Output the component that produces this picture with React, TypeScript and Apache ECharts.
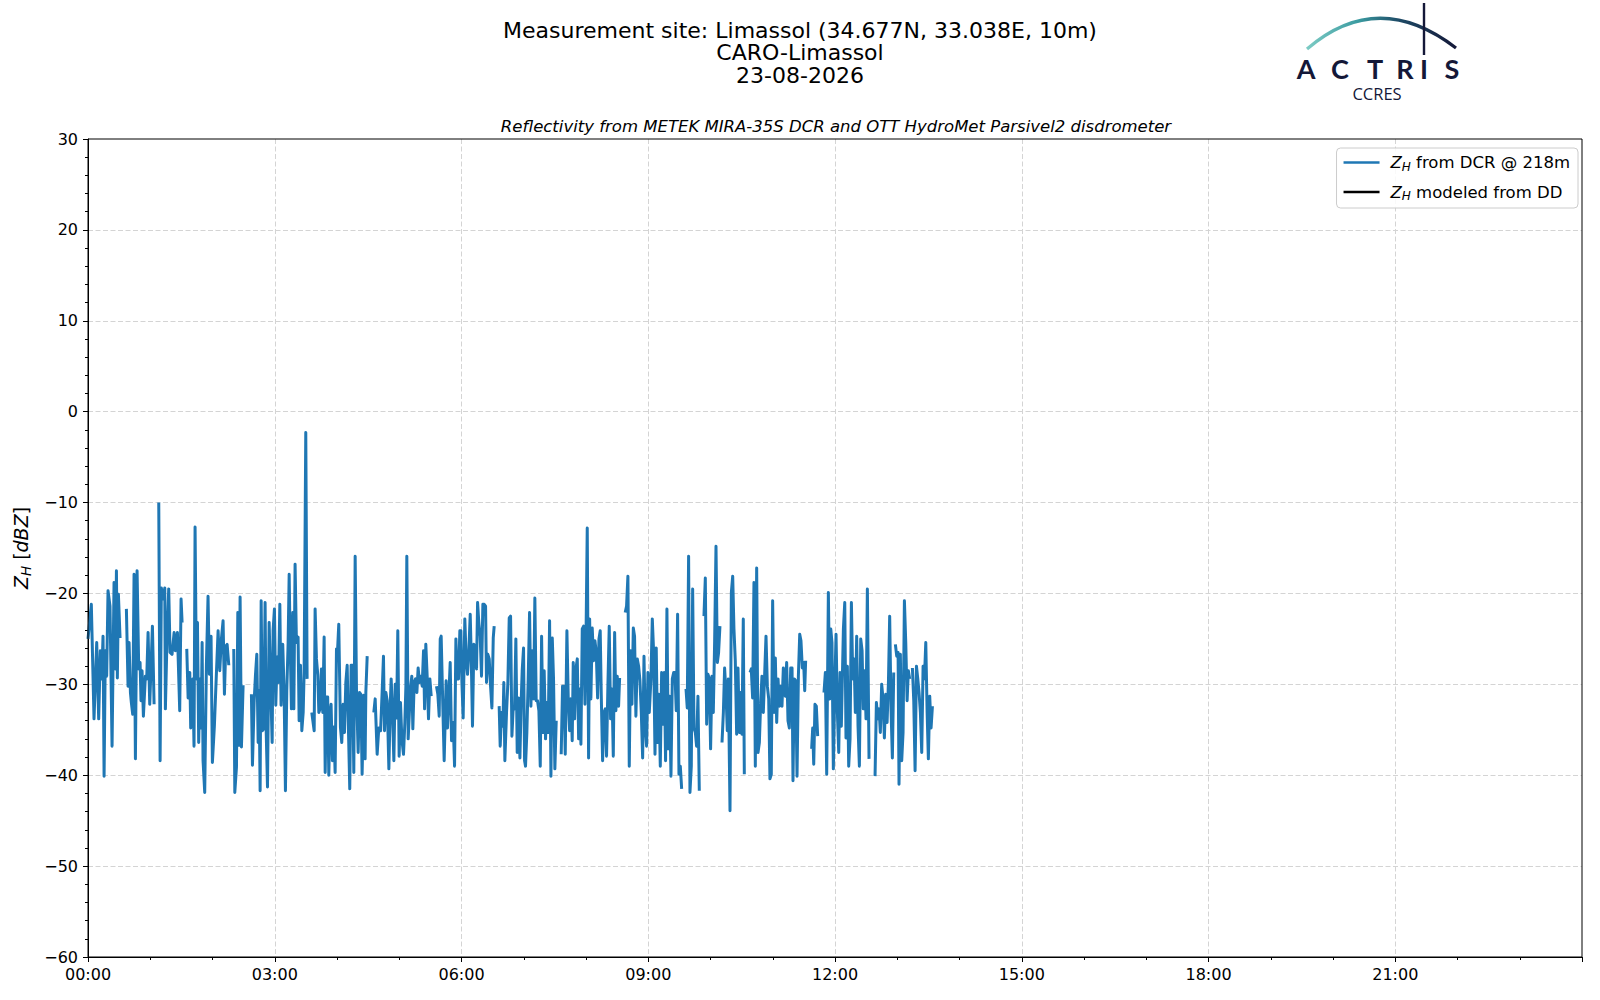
import React, { useEffect, useRef } from "react";
import * as echarts from "echarts";

// ---- Data (minutes after 00:00 UTC, dBZ); null = gap ----
const dcrMinutes: number[] = [
  0, 3.2, 5.8, 8.4, 10.3, 11.9, 13.2, 14.5, 15.5, 16.7, 18.0, 19.3, 21.2, 23.2, 25.1, 26.4, 27.4, 28.3, 29.3, 30.9,
  34, 37.0, 38.6, 39.6, 40.9, 41.8, 43.1, 44.4, 45.7, 47.3, 48.9, 50.2, 51.1, 52.1, 53.4, 55.3, 56.6, 57.9, 59.5, 62.1, 63.7,
  66, 68.2, 69.5, 70.7, 72.4, 74.0, 74.6, 76.2, 77.8, 79.1, 81.0, 83.0, 84.2, 86.2, 88.4, 89.7, 90.7,
  93, 95.2, 96.5, 98.1, 99.0, 101.0, 102.2, 103.2, 104.5, 105.5, 106.7, 108.0, 109.0, 110.0, 110.9, 112.5, 114.1, 115.7,
  117.0, 118.6, 119.9, 121.8, 123.8, 125.4, 127.0, 128.6, 130.2,
  131.5, 132.8, 134.1, 135.7, 138, 140.5, 141.5, 143.1, 144.4, 145.6, 146.6, 147.9, 149.5, 153,
  157.5, 158.5, 160.1, 161.4, 162.7, 164.0, 164.9, 165.9, 166.9, 168.1, 169.4, 170.7, 171.7, 173.0, 174.6, 175.9, 177.5,
  178.4, 179.7, 181.0, 182.3, 183.6, 184.9, 186.1, 187.7, 189.0, 190.3, 191.6, 192.9, 193.9, 194.8, 196.1, 197.4, 198.4,
  199.6, 200.9, 202.5, 203.5, 204.8, 206.1, 207.4, 208.3, 209.9, 211.2, 213.5,
  215.7, 218.0, 218.9, 220.2, 221.5, 222.5, 223.7, 225.0, 226.3, 227.6, 228.6, 229.8, 231.0, 232.1, 233.4, 234.3, 235.6,
  236.9, 238.2, 239.5, 240.6, 241.7, 243.3, 244.6, 245.9, 247.2, 248.5, 249.8, 251.1, 252.3, 253.6, 254.9, 256.2, 257.5,
  258.8, 260.4, 261.7, 263.0, 264.2, 265.8, 267.1, 267.8, 269.1, 272,
  275.5, 276.8, 278.7, 280.3, 282.0, 283.5, 284.8, 285.8, 287.1, 288.4, 290.0, 291.2, 292.2, 293.5, 294.8, 296.1, 297.4,
  298.6, 299.9, 301.2, 302.5, 304.1, 305.4, 306.4, 307.3, 308.6, 309.6, 310.9, 312.1, 313.1, 314.4, 315.7, 317.0, 318.2,
  319.5, 320.8, 322.1, 323.4, 324.4, 325.6, 326.9, 328.2, 329.5, 330.8, 333,
  335.9, 337.2, 338.5, 339.5, 340.4, 342.0, 343.3, 344.3, 345.2, 346.5, 347.8, 349.1, 350.4, 352.0, 353.3, 354.6, 355.8,
  357.1, 358.4, 359.4, 360.4, 361.6, 363.2, 364.5, 365.8, 367.1, 368.4, 369.3, 370.6, 371.9, 373.2, 374.5, 375.5, 376.7,
  378.0, 379.3, 380.6, 381.9, 383.2, 384.1, 385.4, 386.7, 388.0, 389.3, 390.6, 391.5, 394,
  396.3, 397.3, 398.6, 399.9, 400.8, 401.8, 403.4, 404.7, 406.0, 407.3, 408.6, 409.9, 411.1, 412.4, 413.7, 415.0, 416.3,
  417.6, 418.5, 419.8, 420.8, 421.7, 423.0, 424.3, 425.6, 426.9, 428.2, 429.5, 430.7, 432.0, 433.3, 434.6, 435.9, 437.2,
  438.5, 439.7, 441.0, 442.3, 443.6, 444.9, 446.2, 447.5, 448.7, 450.0, 451.3, 453.5,
  456.1, 457.4, 458.7, 460.0, 461.6, 462.9, 464.2, 465.5, 466.7, 467.7, 469.0, 470.3, 471.6, 472.9, 474.1, 475.1, 476.4,
  477.7, 479.0, 479.9, 481.2, 482.5, 483.5, 484.7, 486.0, 487.3, 488.6, 489.9, 491.2, 492.5, 493.7, 494.7, 496.0, 497.3,
  498.6, 499.8, 501.1, 502.4, 503.7, 505.0, 506.3, 507.6, 508.8, 510.1, 511.4, 512.4, 515,
  517.8, 519.1, 520.4, 521.7, 523.0, 524.3, 525.6, 526.8, 528.1, 529.4, 530.7, 532.0, 533.3, 534.6, 535.9, 537.1, 538.4,
  539.7, 541.0, 542.6, 543.9, 545.2, 546.5, 547.7, 549.0, 550.3, 551.6, 552.9, 554.2, 555.5, 556.7, 558.0, 559.3, 560.6,
  561.9, 563.2, 564.5, 565.7, 567.0, 568.3, 569.6, 570.9, 572.2, 574,
  576.4, 577.6, 578.9, 580.2, 581.5, 582.8, 584.1, 585.4, 586.6, 587.9, 589.2, 591.5,
  593.7, 595.0, 596.3, 597.6, 598.9, 600.1, 601.4, 602.7, 604.0, 605.3, 606.6, 607.8, 609.1, 610.1,
  611.1, 612.4, 613.6, 614.9, 616.2, 617.2, 618.8, 620.1, 621.4, 622.6, 623.9, 625.2, 626.5, 627.8, 629.1, 630.3, 631.6,
  632.6, 635.5,
  638.1, 639.3, 640.6, 641.9, 643.2, 644.5, 645.8, 647.1, 648.3, 649.6, 650.9, 652.2, 653.5, 654.8, 656.1, 657.3, 658.6,
  659.9, 661.2, 662.5, 663.8, 665.1, 666.3, 667.6, 668.9, 670.2, 672.1, 673.4, 674.7, 676.0, 677.3, 678.6, 679.5, 680.8,
  682.1, 683.4, 684.7, 686.0, 687.2, 688.5, 689.8, 690.8, 691.7, 694.5,
  697.5, 698.5, 699.5, 700.7, 702.0, 703.3, 706.5,
  709.4, 710.7, 712.0, 713.6, 714.9, 715.9, 717.1, 718.4, 719.7, 721.0, 722.3, 723.6, 724.9, 726.1, 728.1, 729.4, 730.6,
  731.9, 733.2, 734.5, 735.8, 737.1, 738.4, 739.6, 740.9, 742.2, 743.5, 744.8, 746.1, 747.3, 748.6, 749.9, 751.2, 752.8,
  755.5,
  758.6, 759.9, 761.2, 762.5, 763.7, 765.0, 766.3, 767.6, 768.9, 770.2, 771.5, 772.7, 774.0, 775.3, 776.6, 777.4,
  778.2, 779.5, 780.8, 781.7, 783.0, 784.3, 785.6, 786.9, 788.2, 789.5, 790.7, 792.0, 793.3,
  794.6, 795.9, 797.2, 798.5, 799.8, 801.0, 802.3, 803.6, 804.9, 806.2, 807.5, 808.8, 810.0, 811.3, 812.6, 813.9,
];

const dcrValues: (number | null)[] = [
  -25.0, -21.2, -33.8, -25.4, -33.8, -26.3, -29.4, -24.7, -40.1, -26.3, -29.1, -19.7, -21.4, -36.8, -18.8, -28.3, -17.5, -29.3, -20.1, -24.9,
  null, -21.7, -30.2, -25.4, -30.9, -32.0, -33.3, -17.9, -38.2, -17.5, -28.3, -27.6, -31.8, -28.5, -33.5, -29.1, -29.4, -24.3, -32.2, -23.6, -32.2,
  null, -10.0, -38.4, -19.4, -20.6, -19.4, -32.7, -24.7, -19.5, -26.5, -26.7, -24.3, -26.3, -24.3, -32.9, -20.6, -23.2,
  null, -26.1, -31.5, -28.7, -34.8, -29.4, -36.8, -12.7, -29.4, -23.2, -36.4, -29.4, -34.8, -25.4, -38.4, -41.9, -28.0, -20.3,
  -28.9, -24.7, -38.6, -34.6, -28.7, -24.1, -28.5, -25.0, -23.0,
  -31.1, -25.8, -25.6, -27.9, null, -26.1, -41.9, -39.1, -22.1, -36.7, -20.4, -36.9, -30.1, null,
  -31.1, -38.9, -32.0, -29.0, -26.7, -36.4, -30.7, -41.7, -20.8, -35.1, -34.9, -21.0, -34.9, -41.3, -23.2, -29.4, -36.4,
  -24.1, -21.7, -32.3, -27.0, -29.8, -21.2, -32.3, -25.6, -30.7, -41.7, -30.7, -25.4, -17.9, -25.2, -32.7, -22.1, -32.7,
  -16.8, -25.4, -24.8, -34.0, -27.9, -35.1, -33.1, -28.7, -2.3, -29.4, null,
  -33.1, -35.1, -21.7, -27.2, -29.0, -33.1, -32.7, -28.3, -33.1, -24.8, -39.7, -31.4, -31.4, -40.0, -33.1, -32.2, -38.4,
  -34.7, -39.7, -26.1, -26.1, -23.4, -34.7, -36.4, -32.2, -35.3, -29.8, -27.9, -35.3, -41.5, -27.9, -27.9, -39.7, -15.9,
  -30.9, -37.5, -30.9, -31.1, -39.9, -31.2, -38.2, -30.9, -26.9, null,
  -33.1, -31.6, -37.7, -34.8, -35.1, -30.9, -26.9, -35.1, -30.9, -31.8, -39.3, -32.7, -29.4, -33.1, -38.4, -30.0, -33.7,
  -24.1, -37.9, -32.0, -36.0, -37.7, -34.2, -30.2, -15.9, -36.0, -33.5, -30.4, -29.1, -34.9, -29.8, -29.4, -30.9, -28.2,
  -29.8, -29.1, -30.2, -26.3, -32.7, -25.6, -29.1, -33.8, -29.4, -31.3, null,
  -30.2, -31.1, -33.5, -25.0, -24.7, -32.4, -38.4, -33.8, -29.6, -34.8, -31.3, -27.6, -36.2, -34.2, -39.0, -25.0, -29.4,
  -29.4, -24.1, -24.1, -29.8, -33.7, -22.8, -27.2, -28.9, -26.3, -22.3, -26.5, -34.6, -25.6, -25.8, -28.3, -21.0, -23.2,
  -24.7, -29.1, -21.2, -21.2, -21.4, -29.8, -26.7, -27.2, -30.2, -32.6, -24.9, -23.6, null,
  -32.4, -36.8, -33.1, -34.6, -29.8, -38.4, -33.1, -29.8, -22.7, -22.5, -35.7, -32.4, -32.7, -25.0, -37.5, -31.5, -38.1,
  -31.6, -28.5, -26.0, -38.4, -39.0, -35.3, -29.4, -22.1, -32.4, -26.3, -31.6, -20.5, -31.8, -31.8, -32.9, -39.0, -24.7,
  -35.3, -28.5, -36.0, -32.0, -35.3, -23.0, -40.1, -24.9, -29.4, -39.3, -34.0, null,
  -37.7, -30.2, -30.2, -37.7, -24.1, -31.6, -35.1, -31.6, -36.2, -27.6, -33.8, -28.3, -27.2, -36.0, -30.5, -36.6, -23.9,
  -23.6, -32.2, -26.1, -12.8, -38.1, -22.8, -31.6, -23.8, -27.4, -25.2, -26.5, -31.5, -25.0, -24.1, -31.1, -38.4, -33.1,
  -32.7, -37.9, -30.2, -23.6, -33.8, -30.5, -37.9, -24.3, -32.9, -29.1, -32.4, -29.3, null,
  -22.1, -21.4, -18.1, -39.0, -26.3, -32.2, -23.8, -24.7, -33.5, -27.2, -28.0, -29.6, -33.1, -38.1, -26.9, -34.6, -36.8,
  -28.7, -33.1, -29.4, -22.8, -26.5, -37.7, -26.0, -36.4, -31.1, -39.0, -28.7, -34.4, -28.7, -38.4, -21.7, -37.1, -31.3,
  -40.1, -29.4, -28.7, -28.7, -32.9, -22.3, -39.9, -39.0, -41.5, null,
  -30.5, -32.6, -15.9, -41.9, -39.0, -19.5, -34.8, -35.3, -36.8, -31.3, -41.7, null,
  -22.5, -18.3, -34.4, -28.9, -29.4, -37.1, -29.1, -33.1, -25.2, -14.8, -27.6, -26.5, -23.6, null,
  -36.4, -33.1, -28.2, -30.9, -35.1, -29.4, -43.9, -19.9, -18.1, -23.9, -27.4, -35.5, -28.2, -35.3, -30.9, -35.5, -22.8,
  -39.9, null,
  -28.7, -28.3, -31.5, -18.8, -39.0, -17.2, -37.5, -36.4, -32.2, -29.1, -33.1, -28.9, -24.7, -30.2, -31.6, -40.4, -39.9,
  -20.8, -33.1, -27.1, -34.2, -29.4, -32.4, -30.2, -32.4, -28.2, -31.3, -27.6, -34.0, -34.8, -28.2, -28.2, -40.6, -29.4,
  -29.6, -40.1, -29.1, -24.5, -25.2, -28.2, -27.6, -30.7, -27.4, null,
  -37.1, -34.8, -38.8, -32.2, -32.4, -35.7, null,
  -30.9, -28.7, -39.9, -19.9, -31.6, -23.9, -25.4, -39.3, -30.9, -24.5, -33.1, -37.5, -28.7, -34.6, -23.9, -21.0, -35.9,
  -28.0, -39.0, -36.0, -21.0, -29.4, -27.2, -33.1, -24.7, -34.6, -39.0, -25.0, -26.3, -32.7, -28.5, -33.8, -19.5, -38.2,
  null,
  -40.1, -32.0, -33.8, -32.7, -35.3, -30.0, -31.6, -35.9, -31.1, -34.2, -29.8, -22.5, -32.7, -38.1, -28.7, null,
  -25.6, -26.9, -26.5, -41.0, -26.7, -38.4, -35.3, -20.8, -25.4, -31.8, -28.5, -29.4, null,
  -28.2, -31.8, -39.5, -28.0, -29.4, -30.9, -33.1, -37.5, -28.0, -29.4, -25.4, -33.1, -38.2, -31.3, -34.8, -32.4,
];

// modelled reflectivity from the disdrometer: no data on this day
const ddMinutes: number[] = [];
const ddValues: number[] = [];

const titleLines = [
  "Measurement site: Limassol (34.677N, 33.038E, 10m)",
  "CARO-Limassol",
  "23-08-2026",
];
const subTitle = "Reflectivity from METEK MIRA-35S DCR and OTT HydroMet Parsivel2 disdrometer";
const legendLabels: Record<string, string> = {
  dcr: "{z|Z}{h|H}{t| from DCR @ 218m}",
  dd: "{z|Z}{h|H}{t| modeled from DD}",
};

const FONT = "DejaVu Sans";
const NAVY = "#141838";

function buildOption() {
  const dcrData = dcrMinutes.map((m, i) => [m / 60, dcrValues[i] === null ? "-" : dcrValues[i]]);
  const ddData = ddMinutes.map((m, i) => [m / 60, ddValues[i]]);
  const pad = (n: number) => (n < 10 ? "0" + n : "" + n);

  const richLegend = {
    z: { fontSize: 16.5, fontStyle: "italic", fontFamily: FONT, color: "#000", lineHeight: 20 },
    h: { fontSize: 12, fontStyle: "italic", fontFamily: FONT, color: "#000", lineHeight: 11, verticalAlign: "bottom" },
    t: { fontSize: 16.5, fontFamily: FONT, color: "#000", lineHeight: 20 },
  };
  const richName = {
    z: { fontSize: 19, fontStyle: "italic", fontFamily: FONT, color: "#000", lineHeight: 24 },
    h: { fontSize: 13.5, fontStyle: "italic", fontFamily: FONT, color: "#000", lineHeight: 13, verticalAlign: "bottom" },
    b: { fontSize: 19, fontFamily: FONT, color: "#000", lineHeight: 24 },
    d: { fontSize: 19, fontStyle: "italic", fontFamily: FONT, color: "#000", lineHeight: 24 },
  };

  const titleY = [30, 52.5, 75];
  const graphics: any[] = titleLines.map((t, i) => ({
    type: "text",
    x: 800,
    y: titleY[i],
    style: { text: t, fontSize: 22, fontFamily: FONT, fill: "#000", align: "center", verticalAlign: "middle" },
  }));
  graphics.push({
    type: "text",
    x: 836,
    y: 126,
    style: { text: subTitle, fontSize: 16.5, fontStyle: "italic", fontFamily: FONT, fill: "#000", align: "center", verticalAlign: "middle" },
  });
  // ACTRIS logo
  graphics.push({
    type: "bezierCurve",
    shape: { x1: 1307, y1: 49, cpx1: 1378, cpy1: -12, x2: 1456, y2: 48 },
    style: {
      fill: "none",
      lineWidth: 3.2,
      stroke: {
        type: "linear", x: 0, y: 0, x2: 1, y2: 0,
        colorStops: [
          { offset: 0, color: "#7ccbc4" },
          { offset: 0.35, color: "#3a9aa0" },
          { offset: 0.62, color: "#1e4a66" },
          { offset: 1, color: NAVY },
        ],
      },
    },
  });
  graphics.push({
    type: "rect",
    shape: { x: 1422.8, y: 3, width: 2.4, height: 52 },
    style: { fill: NAVY },
  });
  const letters = ["A", "C", "T", "R", "I", "S"];
  const letterX = [1306, 1340, 1375, 1405, 1424, 1452];
  letters.forEach((l, i) => {
    graphics.push({
      type: "text",
      x: letterX[i],
      y: 68,
      style: { text: l, fontSize: 27, fontFamily: "Lato", fontWeight: "bold", fill: NAVY, align: "center", verticalAlign: "middle" },
    });
  });
  graphics.push({
    type: "text",
    x: 1377,
    y: 93,
    style: { text: "CCRES", fontSize: 16.5, fontFamily: "Open Sans", fill: NAVY, align: "center", verticalAlign: "middle" },
  });

  const gridLine = { show: true, showMinLine: false, showMaxLine: false, lineStyle: { color: "#d4d4d4", type: [5, 2.5], width: 1 } };

  return {
    animation: false,
    backgroundColor: "#ffffff",
    textStyle: { fontFamily: FONT },
    grid: { left: 88, right: 18, top: 139, bottom: 43, show: true, borderColor: "#000", borderWidth: 1, backgroundColor: "transparent", z: 5 },
    legend: {
      orient: "vertical",
      right: 22,
      top: 148,
      data: ["dcr", "dd"],
      selectedMode: false,
      icon: "rect",
      itemWidth: 36,
      itemHeight: 2.4,
      itemGap: 11,
      padding: [6, 8, 6, 7],
      borderColor: "#cccccc",
      borderWidth: 1,
      borderRadius: 4,
      backgroundColor: "rgba(255,255,255,0.85)",
      formatter: (name: string) => legendLabels[name],
      textStyle: { padding: [0, 0, 0, 6], rich: richLegend },
    },
    xAxis: {
      type: "value",
      min: 0,
      max: 24,
      interval: 3,
      axisLine: { show: true, onZero: false, lineStyle: { color: "#000", width: 1 } },
      axisTick: { show: true, length: 5, lineStyle: { color: "#000", width: 1 } },
      minorTick: { show: true, splitNumber: 3, length: 3, lineStyle: { color: "#000", width: 1 } },
      minorSplitLine: { show: false },
      axisLabel: {
        color: "#000",
        fontSize: 16,
        fontFamily: FONT,
        margin: 9,
        formatter: (v: number) => (v >= 24 ? "" : pad(v) + ":00"),
      },
      splitLine: gridLine,
    },
    yAxis: {
      type: "value",
      min: -60,
      max: 30,
      interval: 10,
      name: "{z|Z}{h|H}{b| [}{d|dBZ}{b|]}",
      nameLocation: "middle",
      nameRotate: 90,
      nameGap: 52,
      nameTextStyle: { rich: richName },
      axisLine: { show: true, onZero: false, lineStyle: { color: "#000", width: 1 } },
      axisTick: { show: true, length: 5, lineStyle: { color: "#000", width: 1 } },
      minorTick: { show: true, splitNumber: 5, length: 3, lineStyle: { color: "#000", width: 1 } },
      axisLabel: {
        color: "#000",
        fontSize: 16,
        fontFamily: FONT,
        margin: 10,
        formatter: (v: number) => String(v).replace("-", "\u2212"),
      },
      splitLine: gridLine,
    },
    series: [
      {
        name: "dcr",
        type: "line",
        data: dcrData,
        symbol: "none",
        showSymbol: false,
        connectNulls: false,
        lineStyle: { color: "#1f77b4", width: 3, join: "round" },
        itemStyle: { color: "#1f77b4" },
        z: 3,
      },
      {
        name: "dd",
        type: "line",
        data: ddData,
        symbol: "none",
        showSymbol: false,
        lineStyle: { color: "#000", width: 3 },
        itemStyle: { color: "#000" },
        z: 4,
      },
    ],
    graphic: graphics,
  };
}

export default function App() {
  const ref = useRef<HTMLDivElement>(null);
  useEffect(() => {
    if (!ref.current) return;
    const chart = echarts.init(ref.current, null, { renderer: "svg" });
    chart.setOption(buildOption() as any);
    return () => chart.dispose();
  }, []);
  return (
    <div
      ref={ref}
      style={{ position: "fixed", left: 0, top: 0, width: 1600, height: 1000, background: "#fff" }}
    />
  );
}
